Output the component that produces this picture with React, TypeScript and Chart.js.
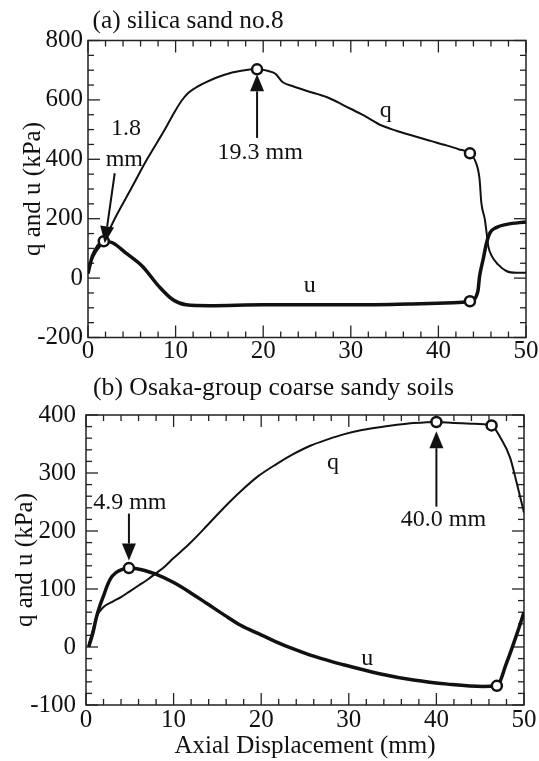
import React, { useEffect, useRef } from 'react';
import { Chart, registerables } from 'chart.js';

Chart.register(...registerables);

const FONT = '"Liberation Serif", "Times New Roman", serif';
const INK = '#111111';

// ---------- Panel (a) silica sand no.8 ----------
const aQX = [0, 0.5, 1, 1.8, 3.05, 4.9, 6.74, 8.77, 9.8, 10.7, 11.5, 12.5, 13.5, 15.5, 17.5, 19.3, 20.5, 21.4, 22.2, 23.4, 25, 27.3, 29.3, 31.2, 32.5, 33.2, 35.2, 37, 39.1, 41, 42.3, 43.6, 44.2, 44.7, 44.9, 45.3, 45.5, 45.7, 46.1, 46.8, 47.8, 48.9, 50];
const aQY = [40, 66, 92, 124, 200, 300, 400, 500, 555, 598, 625, 645, 660, 684, 698, 703, 698, 688, 660, 646, 630, 609, 580, 552, 530, 518, 496, 480, 462, 446, 434, 420, 395, 333, 254, 198, 153, 107, 74, 46, 23, 18, 18];
const aUX = [0, 0.5, 1.1, 1.8, 2.8, 4.3, 6.2, 8.1, 9.7, 11.2, 13.9, 20, 30, 38, 41.7, 43.6, 44.5, 44.7, 45.1, 45.5, 45.9, 46.6, 47.8, 50];
const aUY = [15, 74, 107, 124, 119, 85, 40, -28, -73, -90, -93, -90, -90, -86, -83, -78, -45, 6, 62, 119, 153, 170, 181, 189];
const aMarkX = [1.8, 19.3, 43.6, 43.6];
const aMarkY = [124, 703, 420, -78];
const aXRange = [0, 50];
const aYRange = [-200, 800];
const aXStep = 10;
const aYStep = 200;

// ---------- Panel (b) Osaka-group coarse sandy soils ----------
const bQX = [0.3, 0.8, 1.2, 2, 3, 4, 5, 6, 7, 7.9, 9, 9.9, 11.8, 13.8, 15.8, 17.7, 19.7, 21.7, 23.6, 25.6, 27.6, 29.5, 31.5, 33.5, 35.5, 37.4, 40, 42, 44, 46.3, 47.3, 48.4, 49.2, 50];
const bQY = [3, 30, 52, 69, 78, 86, 96, 106, 116, 126, 139, 152, 178, 209, 241, 269, 295, 315, 332, 347, 358, 367, 374, 379, 383, 386, 388, 386, 385, 382, 361, 327, 281, 232];
const bUX = [0.3, 0.8, 1.2, 1.6, 2, 2.4, 2.8, 3.4, 4, 4.9, 5.8, 6.7, 7.9, 9.9, 11.8, 13.8, 15.8, 17.7, 19.7, 21.7, 23.6, 25.6, 27.6, 29.5, 33.5, 37.4, 41.3, 45.3, 46.9, 48, 49.2, 50];
const bUY = [0, 25, 52, 72, 88, 105, 118, 128, 133, 136, 135, 132, 126, 112, 95, 75, 55, 37, 23, 9, -3, -14, -23, -31, -46, -57, -64, -68, -67, -28, 23, 60];
const bMarkX = [4.9, 40, 46.3, 46.9];
const bMarkY = [136, 388, 382, -67];
const bXRange = [0, 50];
const bYRange = [-100, 400];
const bXStep = 10;
const bYStep = 100;

const pts = (xs: number[], ys: number[]) => xs.map((x, i) => ({ x, y: ys[i] }));

const panelPlugin = {
  id: 'panel',
  beforeDatasetsDraw(chart: any, _a: any, o: any) {
    const { ctx, chartArea: ca, scales } = chart;
    const xs = scales.x;
    const ys = scales.y;
    ctx.save();
    ctx.strokeStyle = '#222';
    ctx.lineWidth = 1.5;
    ctx.strokeRect(ca.left, ca.top, ca.right - ca.left, ca.bottom - ca.top);
    ctx.lineWidth = 1.3;
    const seg = (x1: number, y1: number, x2: number, y2: number) => {
      ctx.beginPath();
      ctx.moveTo(x1, y1);
      ctx.lineTo(x2, y2);
      ctx.stroke();
    };
    const nx = Math.round((xs.max - xs.min) / o.xMinor);
    for (let i = 0; i <= nx; i++) {
      const v = xs.min + i * o.xMinor;
      const px = xs.getPixelForValue(v);
      const r = v / o.xMajor;
      const len = Math.abs(r - Math.round(r)) < 1e-6 ? 12 : 6;
      seg(px, ca.bottom, px, ca.bottom - len);
      seg(px, ca.top, px, ca.top + len);
    }
    const ny = Math.round((ys.max - ys.min) / o.yMinor);
    for (let i = 0; i <= ny; i++) {
      const v = ys.min + i * o.yMinor;
      const py = ys.getPixelForValue(v);
      const r = v / o.yMajor;
      const len = Math.abs(r - Math.round(r)) < 1e-6 ? 12 : 6;
      seg(ca.left, py, ca.left + len, py);
      seg(ca.right, py, ca.right - len, py);
    }
    ctx.restore();
  },
  afterDatasetsDraw(chart: any, _a: any, o: any) {
    const { ctx, scales } = chart;
    const xs = scales.x;
    const ys = scales.y;
    ctx.save();
    ctx.fillStyle = INK;
    ctx.strokeStyle = INK;
    for (const a of o.arrows || []) {
      const x1 = xs.getPixelForValue(a.from[0]);
      const y1 = ys.getPixelForValue(a.from[1]);
      const x2 = xs.getPixelForValue(a.to[0]);
      const y2 = ys.getPixelForValue(a.to[1]);
      const ang = Math.atan2(y2 - y1, x2 - x1);
      const hl = 17;
      const hw = 7;
      const bx = x2 - hl * Math.cos(ang);
      const by = y2 - hl * Math.sin(ang);
      ctx.lineWidth = 2;
      ctx.beginPath();
      ctx.moveTo(x1, y1);
      ctx.lineTo(bx, by);
      ctx.stroke();
      ctx.beginPath();
      ctx.moveTo(x2, y2);
      ctx.lineTo(bx + hw * Math.sin(ang), by - hw * Math.cos(ang));
      ctx.lineTo(bx - hw * Math.sin(ang), by + hw * Math.cos(ang));
      ctx.closePath();
      ctx.fill();
    }
    ctx.textAlign = 'center';
    ctx.textBaseline = 'middle';
    for (const l of o.labels || []) {
      ctx.font = `${l.size || 24}px ${FONT}`;
      ctx.fillText(l.text, xs.getPixelForValue(l.x), ys.getPixelForValue(l.y));
    }
    ctx.textAlign = 'left';
    ctx.textBaseline = 'alphabetic';
    ctx.font = `${o.titleSize}px ${FONT}`;
    ctx.fillText(o.title, o.titleX, o.titleY);
    ctx.restore();
  },
};

function makeConfig(p: any): any {
  return {
    type: 'scatter',
    data: {
      datasets: [
        {
          label: 'markers',
          data: pts(p.markX, p.markY),
          pointStyle: 'circle',
          pointRadius: 5,
          pointBorderWidth: 2.5,
          pointBorderColor: INK,
          pointBackgroundColor: '#ffffff',
          showLine: false,
          order: 0,
        },
        {
          label: 'q',
          data: pts(p.qX, p.qY),
          showLine: true,
          borderColor: INK,
          borderWidth: 2,
          pointRadius: 0,
          cubicInterpolationMode: 'monotone',
          order: 2,
        },
        {
          label: 'u',
          data: pts(p.uX, p.uY),
          showLine: true,
          borderColor: INK,
          borderWidth: 3.5,
          pointRadius: 0,
          cubicInterpolationMode: 'monotone',
          order: 1,
        },
      ],
    },
    options: {
      responsive: false,
      maintainAspectRatio: false,
      animation: false,
      devicePixelRatio: 1,
      layout: { padding: { top: p.padTop, right: p.padRight, left: 0, bottom: 0 } },
      plugins: {
        legend: { display: false },
        tooltip: { enabled: false },
        panel: {
          xMinor: 2,
          xMajor: p.xStep,
          yMinor: p.yMinor,
          yMajor: p.yStep,
          arrows: p.arrows,
          labels: p.labels,
          title: p.title,
          titleX: p.titleX,
          titleY: p.titleY,
          titleSize: p.titleSize,
        },
      },
      scales: {
        x: {
          type: 'linear',
          min: p.xRange[0],
          max: p.xRange[1],
          grid: { display: false, drawTicks: false },
          border: { display: false },
          ticks: {
            stepSize: p.xStep,
            color: INK,
            font: { family: FONT, size: 25 },
            padding: p.xTickPad,
            maxRotation: 0,
            autoSkip: false,
          },
          title: {
            display: !!p.xTitle,
            text: p.xTitle || '',
            color: INK,
            font: { family: FONT, size: 25 },
            padding: { top: 0, bottom: 0 },
          },
          afterFit: (s: any) => {
            s.height = p.xHeight;
          },
        },
        y: {
          type: 'linear',
          min: p.yRange[0],
          max: p.yRange[1],
          grid: { display: false, drawTicks: false },
          border: { display: false },
          ticks: {
            stepSize: p.yStep,
            color: INK,
            font: { family: FONT, size: 25 },
            padding: p.yTickPad,
            autoSkip: false,
          },
          title: {
            display: true,
            text: 'q and u (kPa)',
            color: INK,
            font: { family: FONT, size: 25 },
            padding: { top: p.yTitlePad, bottom: 0 },
          },
          afterFit: (s: any) => {
            s.width = p.yWidth;
          },
        },
      },
    },
    plugins: [panelPlugin],
  };
}

const configA = () =>
  makeConfig({
    qX: aQX, qY: aQY, uX: aUX, uY: aUY, markX: aMarkX, markY: aMarkY,
    xRange: aXRange, yRange: aYRange, xStep: aXStep, yStep: aYStep, yMinor: 50,
    padTop: 40.5, padRight: 13, xHeight: 27.5, yWidth: 88, xTickPad: -1, yTickPad: 5, yTitlePad: 18,
    title: '(a) silica sand no.8', titleX: 92.5, titleY: 28, titleSize: 25.3,
    arrows: [
      { from: [3.05, 353], to: [1.91, 117] },
      { from: [19.3, 472], to: [19.3, 686] },
    ],
    labels: [
      { text: '1.8', x: 4.35, y: 504 },
      { text: 'mm', x: 4.15, y: 398 },
      { text: '19.3 mm', x: 19.66, y: 421 },
      { text: 'q', x: 34.0, y: 562 },
      { text: 'u', x: 25.3, y: -27 },
    ],
  });

const configB = () =>
  makeConfig({
    qX: bQX, qY: bQY, uX: bUX, uY: bUY, markX: bMarkX, markY: bMarkY,
    xRange: bXRange, yRange: bYRange, xStep: bXStep, yStep: bYStep, yMinor: 20,
    padTop: 50, padRight: 15, xHeight: 56, yWidth: 86, xTickPad: 0, yTickPad: 10, yTitlePad: 10,
    xTitle: 'Axial Displacement (mm)',
    title: '(b) Osaka-group coarse sandy soils', titleX: 93, titleY: 30, titleSize: 25.7,
    arrows: [
      { from: [4.9, 230], to: [4.9, 149] },
      { from: [40, 242], to: [40, 372] },
    ],
    labels: [
      { text: '4.9 mm', x: 5.0, y: 248 },
      { text: '40.0 mm', x: 40.8, y: 220 },
      { text: 'q', x: 28.2, y: 318 },
      { text: 'u', x: 32.1, y: -20 },
    ],
  });

function Panel({ make, top, height }: { make: () => any; top: number; height: number }) {
  const ref = useRef<HTMLCanvasElement>(null);
  useEffect(() => {
    const chart = new Chart(ref.current as HTMLCanvasElement, make());
    return () => chart.destroy();
  }, []);
  return (
    <canvas
      ref={ref}
      width={539}
      height={height}
      style={{ position: 'absolute', left: 0, top, width: 539, height, display: 'block' }}
    />
  );
}

export default function App() {
  return (
    <div style={{ position: 'fixed', left: 0, top: 0, width: 539, height: 761, background: '#ffffff', overflow: 'hidden' }}>
      <Panel make={configA} top={0} height={365} />
      <Panel make={configB} top={365} height={396} />
    </div>
  );
}
